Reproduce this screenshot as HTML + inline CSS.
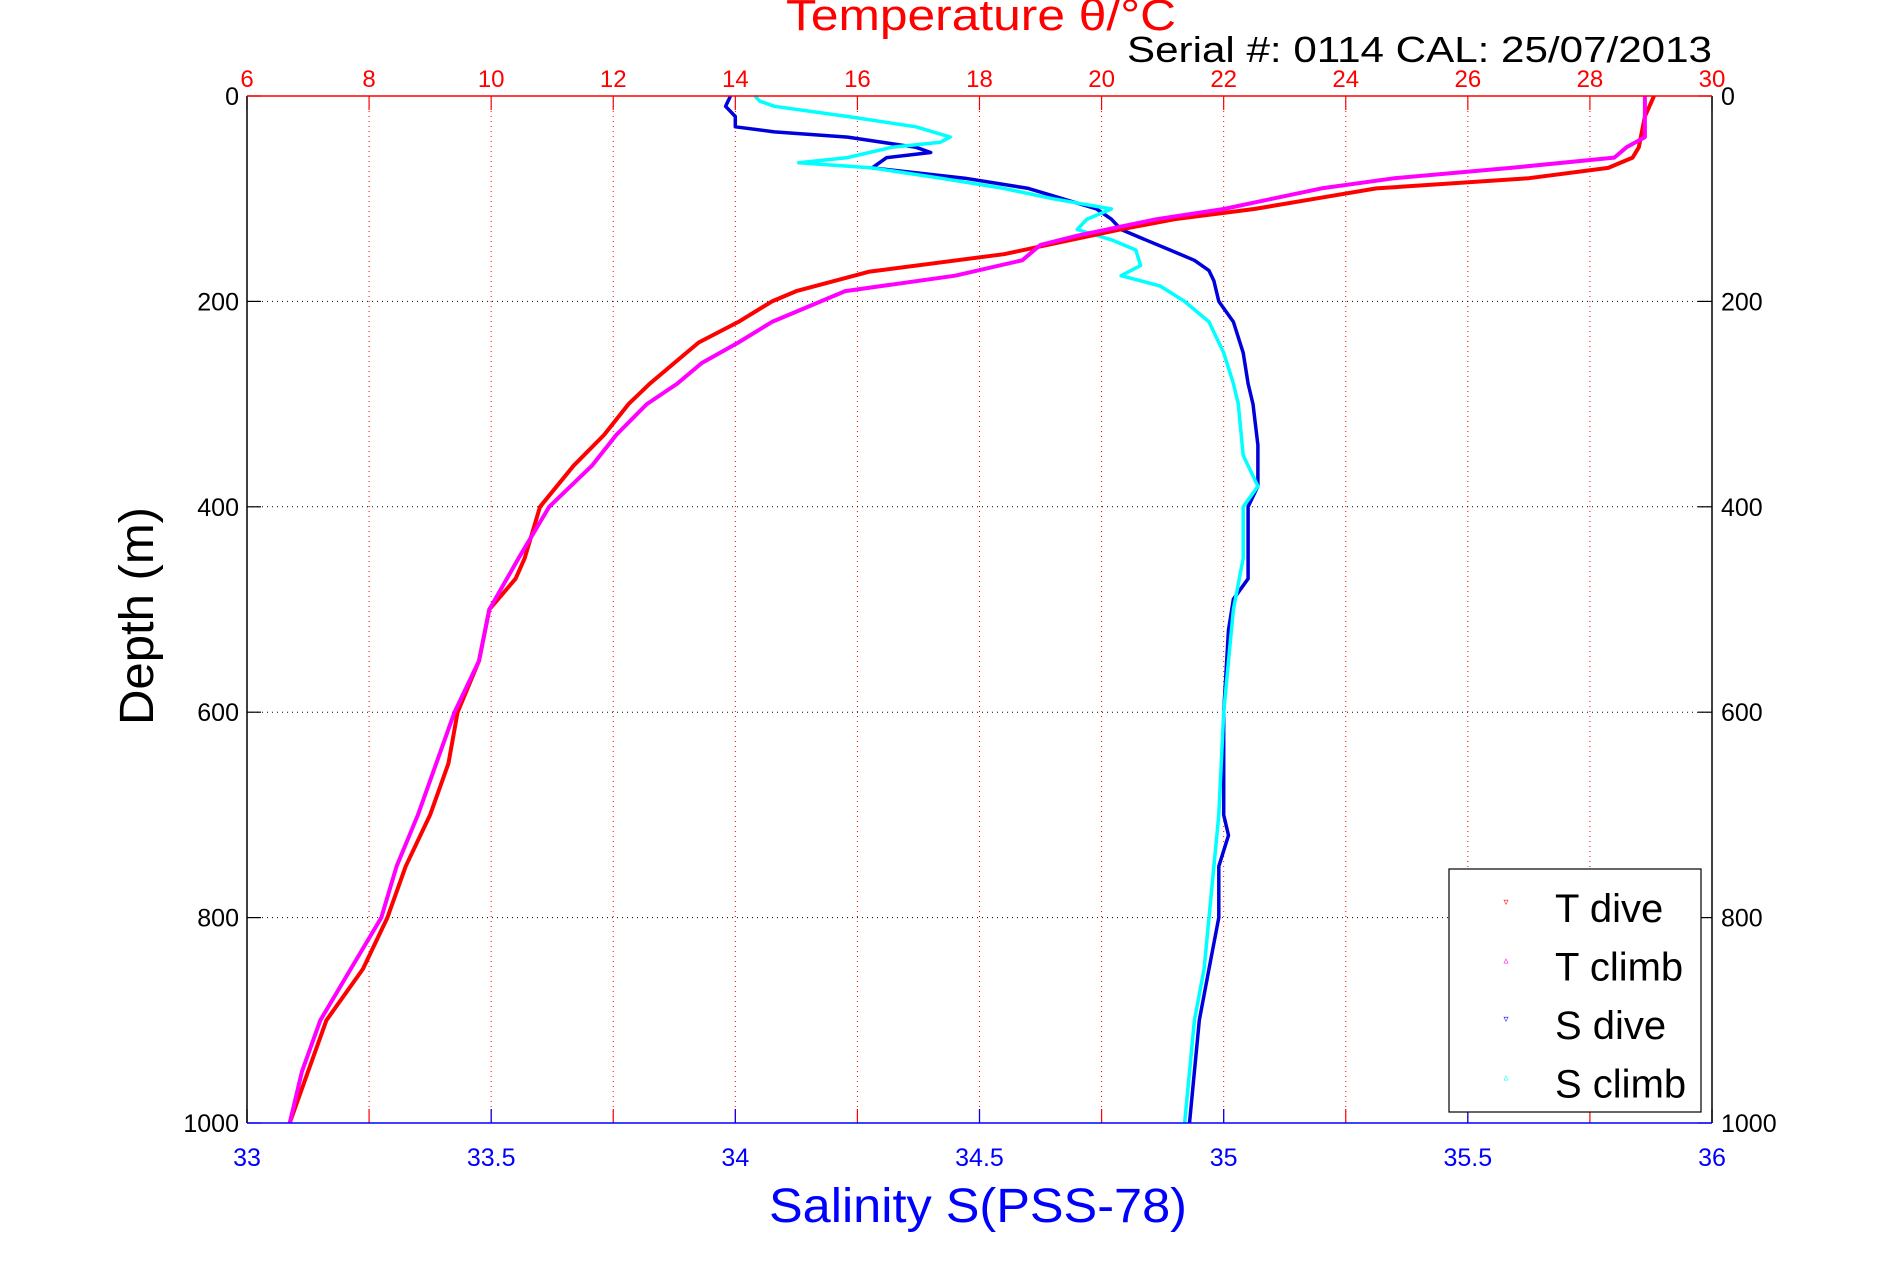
<!DOCTYPE html>
<html><head><meta charset="utf-8"><style>
body{margin:0;background:#fff;}
svg{display:block;font-family:"Liberation Sans",sans-serif;}
</style></head><body>
<svg id="chart" width="1891" height="1262" viewBox="0 0 1891 1262" xmlns="http://www.w3.org/2000/svg">
<rect width="1891" height="1262" fill="#fff"/>
<g id="grid"></g>
<g id="series"></g>
<g id="axes"></g>
<text x="981" y="30" font-size="44" fill="#ff0000" text-anchor="middle" textLength="390" lengthAdjust="spacingAndGlyphs">Temperature θ/°C</text>
<text x="1712" y="62" font-size="36" fill="#000" text-anchor="end" textLength="585" lengthAdjust="spacingAndGlyphs">Serial #: 0114  CAL: 25/07/2013</text>
<text transform="translate(153,616) rotate(-90)" font-size="48" fill="#000" text-anchor="middle" textLength="218" lengthAdjust="spacingAndGlyphs">Depth (m)</text>
<text x="978" y="1222" font-size="48" fill="#0000ff" text-anchor="middle" textLength="418" lengthAdjust="spacingAndGlyphs">Salinity S(PSS-78)</text>
<g id="legend"></g>
</svg>
<script>
const depthTicks=[0,200,400,600,800,1000];
const tempTicks=[6,8,10,12,14,16,18,20,22,24,26,28,30];
const salTicks=[33,33.5,34,34.5,35,35.5,36];
const salTickLabels=["33","33.5","34","34.5","35","35.5","36"];

const tDiveDepth=[0,20,50,60,70,80,90,100,110,120,130,154,171,190,200,220,240,260,280,300,330,360,400,450,470,500,550,600,650,700,750,800,850,900,950,1000];
const tDiveTemp=[29.05,28.9,28.8,28.7,28.3,27.0,24.5,23.5,22.5,21.2,20.3,18.4,16.2,15.0,14.6,14.05,13.4,13.0,12.6,12.25,11.85,11.35,10.8,10.55,10.4,9.97,9.8,9.45,9.3,9.0,8.6,8.3,7.9,7.3,7.0,6.7];
const tClimbDepth=[0,40,50,60,70,80,90,100,110,120,136,145,160,175,190,200,220,240,260,280,300,330,360,400,450,500,550,600,650,700,750,800,850,900,950,1000];
const tClimbTemp=[28.9,28.9,28.6,28.4,26.7,24.8,23.6,22.8,22.0,20.9,19.6,19.0,18.7,17.6,15.8,15.4,14.6,14.05,13.45,13.05,12.55,12.05,11.65,10.95,10.45,9.97,9.8,9.4,9.1,8.8,8.45,8.2,7.7,7.2,6.9,6.7];
const sDiveDepth=[0,10,20,30,35,40,50,55,60,70,80,90,100,110,120,130,140,150,160,170,180,200,220,250,280,300,340,380,400,450,470,490,520,600,700,720,750,800,850,900,950,1000];
const sDiveSal=[33.99,33.98,34.0,34.0,34.08,34.23,34.37,34.40,34.31,34.28,34.47,34.60,34.67,34.74,34.77,34.79,34.84,34.89,34.94,34.97,34.98,34.99,35.02,35.04,35.05,35.06,35.07,35.07,35.05,35.05,35.05,35.02,35.01,35.00,35.00,35.01,34.99,34.99,34.97,34.95,34.94,34.93];
const sClimbDepth=[0,5,10,20,30,40,45,50,60,65,70,80,90,100,110,120,130,140,150,165,175,185,200,220,250,280,300,350,380,400,450,500,550,600,700,750,800,850,900,950,1000];
const sClimbSal=[34.04,34.05,34.08,34.23,34.37,34.44,34.42,34.32,34.23,34.13,34.28,34.42,34.55,34.65,34.77,34.72,34.70,34.77,34.82,34.83,34.79,34.87,34.92,34.97,35.00,35.02,35.03,35.04,35.07,35.04,35.04,35.02,35.01,35.00,34.99,34.98,34.97,34.96,34.94,34.93,34.92];

const L=247,R=1712,T=96,B=1123;
const yD=d=>T+(d/1000)*(B-T);
const xT=t=>L+(t-6)/24*(R-L);
const xS=s=>L+(s-33)/3*(R-L);
const NS="http://www.w3.org/2000/svg";
function mk(tag,attrs,parent){const e=document.createElementNS(NS,tag);for(const k in attrs)e.setAttribute(k,attrs[k]);parent.appendChild(e);return e;}
const grid=document.getElementById('grid'),axes=document.getElementById('axes'),ser=document.getElementById('series'),leg=document.getElementById('legend');

tempTicks.forEach(t=>{
  const x=xT(t);
  if(t>6&&t<30){const g=mk('line',{x1:x,y1:T,x2:x,y2:B,stroke:'#ff0000','stroke-width':1,'stroke-dasharray':'1,4'},grid);
  
  }
  const a=mk('line',{x1:x,y1:T,x2:x,y2:T+14,stroke:'#ff0000','stroke-width':1.2},axes);
  
  
  const b=mk('line',{x1:x,y1:B,x2:x,y2:B-14,stroke:'#ff0000','stroke-width':1.2},axes);
  
  
  const l=mk('text',{x:x,y:87,'font-size':24,fill:'#ff0000','text-anchor':'middle'},axes);l.textContent=t;
  
  
});
depthTicks.forEach(d=>{
  const y=yD(d);
  if(d>0&&d<1000){const g=mk('line',{x1:L,y1:y,x2:R,y2:y,stroke:'#000','stroke-width':1,'stroke-dasharray':'1,4'},grid);
  
  }
  const a=mk('line',{x1:L,y1:y,x2:L+14,y2:y,stroke:'#000','stroke-width':1.2},axes);
  
  
  const b=mk('line',{x1:R,y1:y,x2:R-14,y2:y,stroke:'#000','stroke-width':1.2},axes);
  
  
  const l=mk('text',{x:239,y:y+9,'font-size':25,fill:'#000','text-anchor':'end'},axes);l.textContent=d;
  
  
  const r=mk('text',{x:1721,y:y+9,'font-size':25,fill:'#000','text-anchor':'start'},axes);r.textContent=d;
  
  
});
salTicks.forEach((s,i)=>{
  const x=xS(s);
  const a=mk('line',{x1:x,y1:B,x2:x,y2:B-14,stroke:'#0000ff','stroke-width':1.2},axes);
  
  
  const l=mk('text',{x:x,y:1166,'font-size':25,fill:'#0000ff','text-anchor':'middle'},axes);l.textContent=salTickLabels[i];
  
  
});
const fr=[[L,T,L,B,'#000','left-axis'],[R,T,R,B,'#000','right-axis'],[L,T,R,T,'#ff0000','top-axis'],[L,B,R,B,'#0000ff','bottom-axis']];
fr.forEach(f=>{const e=mk('line',{x1:f[0],y1:f[1],x2:f[2],y2:f[3],stroke:f[4],'stroke-width':1.5},axes);
  
  });

function series(depths,vals,xf,color,name,w){
  const pts=depths.map((d,i)=>xf(vals[i]).toFixed(1)+','+yD(d).toFixed(1)).join(' ');
  const p=mk('polyline',{points:pts,fill:'none',stroke:color,'stroke-width':w,'stroke-linejoin':'round'},ser);
  
  
}
series(sDiveDepth,sDiveSal,xS,'#0000dd','s-dive-trace',3.5);
series(sClimbDepth,sClimbSal,xS,'#00ffff','s-climb-trace',3.5);
series(tDiveDepth,tDiveTemp,xT,'#ff0000','t-dive-trace',4);
series(tClimbDepth,tClimbTemp,xT,'#ff00ff','t-climb-trace',4);

const lb=mk('rect',{x:1449,y:869,width:252,height:243,fill:'#fff',stroke:'#000','stroke-width':1.2},leg);


const legNames=['T dive','T climb','S dive','S climb'];
const legColors=['#ff0000','#ff00ff','#0000ff','#00ffff'];
legNames.forEach((n,i)=>{
  const y=909+i*58.5;
  const m=mk('text',{x:1506,y:y-4,'font-size':10,fill:legColors[i],'text-anchor':'middle'},leg);m.textContent=i%2?'▵':'▿';
  
  
  const t=mk('text',{x:1555,y:y+13,'font-size':40,fill:'#000'},leg);t.textContent=n;
  
  
});
</script>
</body></html>
